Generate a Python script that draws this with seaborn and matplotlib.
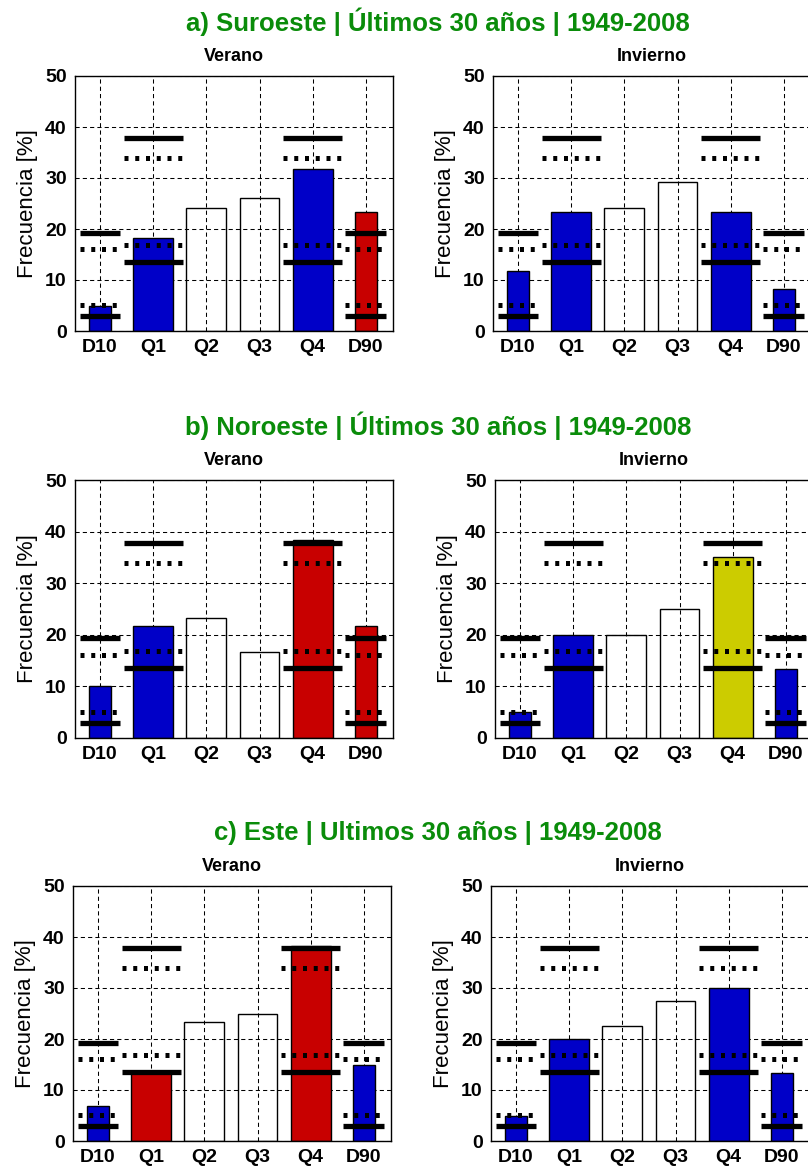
import numpy as np
import pandas as pd
import matplotlib
matplotlib.use("Agg")
import matplotlib.pyplot as plt
import seaborn as sns

# ---------------- data ----------------
categories = ["D10", "Q1", "Q2", "Q3", "Q4", "D90"]
decile_cats = ["D10", "D90"]
quart_cats = ["Q1", "Q2", "Q3", "Q4"]

# threshold levels (identical in every panel)
dec_solid = [3.0, 19.3]
dec_dotted = [5.1, 16.1]
quart_solid = [13.5, 37.8]
quart_dotted = [16.9, 33.9]
threshold_cats_dec = ["D10", "D90"]
threshold_cats_quart = ["Q1", "Q4"]

row_titles = [
    "a) Suroeste | Últimos 30 años | 1949-2008",
    "b) Noroeste | Últimos 30 años | 1949-2008",
    "c) Este | Ultimos 30 años | 1949-2008",
]
col_titles = ["Verano", "Invierno"]

suroeste_verano = [5.0, 18.3, 24.2, 26.0, 31.7, 23.3]
suroeste_invierno = [11.7, 23.3, 24.2, 29.2, 23.3, 8.3]
noroeste_verano = [10.0, 21.7, 23.3, 16.7, 38.3, 21.7]
noroeste_invierno = [5.0, 20.0, 20.0, 25.0, 35.0, 13.3]
este_verano = [6.8, 13.5, 23.4, 25.0, 38.3, 15.0]
este_invierno = [5.0, 20.0, 22.6, 27.4, 30.0, 13.4]

B, R, Y, W = "#0000C8", "#C80000", "#CCCC00", "#FFFFFF"
suroeste_verano_col = [B, B, W, W, B, R]
suroeste_invierno_col = [B, B, W, W, B, B]
noroeste_verano_col = [B, B, W, W, R, R]
noroeste_invierno_col = [B, B, W, W, Y, B]
este_verano_col = [B, R, W, W, R, B]
este_invierno_col = [B, B, W, W, B, B]

yticks = [0, 10, 20, 30, 40, 50]
ylabel = "Frecuencia [%]"

panels = [
    [(suroeste_verano, suroeste_verano_col), (suroeste_invierno, suroeste_invierno_col)],
    [(noroeste_verano, noroeste_verano_col), (noroeste_invierno, noroeste_invierno_col)],
    [(este_verano, este_verano_col), (este_invierno, este_invierno_col)],
]

# ---------------- style ----------------
sns.set_style("white")
plt.rcParams["font.family"] = ["Liberation Sans", "DejaVu Sans"]
plt.rcParams["text.color"] = "black"
plt.rcParams["axes.labelcolor"] = "black"
plt.rcParams["xtick.color"] = "black"
plt.rcParams["ytick.color"] = "black"

W_PX, H_PX = 808, 1166
fig = plt.figure(figsize=(W_PX / 100, H_PX / 100), dpi=100)

# axes boxes in pixels: (top, bottom)
row_boxes = [(76, 331), (480, 738), (886, 1141)]
col_lefts = [[75, 493], [75, 495], [73, 491]]
ax_w = 318
title_y = [22, 426, 833]
GREEN = "#0A8C0A"

dot_style = (0, (0.8, 1.35))
SOLID_LW = 3.8
DOT_LW = 3.6

for r in range(3):
    top, bot = row_boxes[r]
    fig.text(438 / W_PX, 1 - title_y[r] / H_PX, row_titles[r], color=GREEN,
             fontsize=18.5, fontweight="bold", ha="center", va="center")
    for c in range(2):
        left = col_lefts[r][c]
        ax = fig.add_axes([left / W_PX, 1 - bot / H_PX, ax_w / W_PX, (bot - top) / H_PX])
        vals, cols = panels[r][c]
        df = pd.DataFrame({"cat": categories, "val": vals})
        pal = dict(zip(categories, cols))
        dq = df[df["cat"].isin(quart_cats)]
        dd = df[df["cat"].isin(decile_cats)]
        sns.barplot(data=dq, x="cat", y="val", hue="cat", palette=pal, order=categories,
                    hue_order=categories, width=0.75, edgecolor="black", linewidth=1.0,
                    legend=False, ax=ax, dodge=False, saturation=1)
        sns.barplot(data=dd, x="cat", y="val", hue="cat", palette=pal, order=categories,
                    hue_order=categories, width=0.40, edgecolor="black", linewidth=1.0,
                    legend=False, ax=ax, dodge=False, saturation=1)
        for p in ax.patches:
            fc = p.get_facecolor()
            if fc[0] > 0.99 and fc[1] > 0.99 and fc[2] > 0.99:
                p.set_facecolor("none")
            p.set_zorder(2)

        # threshold lines
        for cat in threshold_cats_dec:
            xi = categories.index(cat)
            for v in dec_solid:
                ax.hlines(v, xi - 0.385, xi + 0.385, colors="black", linewidth=SOLID_LW, zorder=4)
            for v in dec_dotted:
                ax.hlines(v, xi - 0.385, xi + 0.385, colors="black", linewidth=DOT_LW,
                          linestyles=[dot_style], zorder=4)
        for cat in threshold_cats_quart:
            xi = categories.index(cat)
            for v in quart_solid:
                ax.hlines(v, xi - 0.555, xi + 0.555, colors="black", linewidth=SOLID_LW, zorder=4)
            for v in quart_dotted:
                ax.hlines(v, xi - 0.555, xi + 0.555, colors="black", linewidth=DOT_LW,
                          linestyles=[dot_style], zorder=4)

        ax.set_xlim(-0.47, 5.51)
        ax.set_ylim(0, 50)
        ax.set_yticks(yticks)
        ax.set_xticks(range(len(categories)))
        ax.set_xticklabels(categories)
        ax.grid(True, color="black", linestyle=(0, (4, 3)), linewidth=0.75, zorder=0)
        ax.set_axisbelow(True)
        ax.tick_params(axis="both", length=0, labelsize=14, pad=6, colors="black")
        for lab in ax.get_xticklabels() + ax.get_yticklabels():
            lab.set_fontweight("bold")
        ax.set_xlabel("")
        ax.set_ylabel(ylabel, fontsize=16, labelpad=5, color="black")
        ax.set_title(col_titles[c], fontsize=13, fontweight="bold", pad=11, color="black")
        for s in ax.spines.values():
            s.set_color("black")
            s.set_linewidth(1.0)
            s.set_visible(True)

fig.savefig("out.png", dpi=100)
